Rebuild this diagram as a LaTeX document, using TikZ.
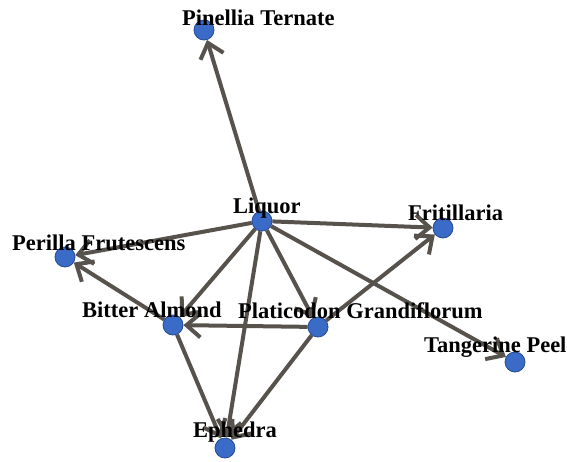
\documentclass[tikz,border=0pt]{standalone}
\usepackage{fontspec}
\setmainfont{Liberation Serif}
\usetikzlibrary{arrows.meta}
\pgfdeclarelayer{bg}
\pgfsetlayers{bg,main}
\definecolor{herbblue}{RGB}{58,107,198}
\definecolor{herbrim}{RGB}{36,74,150}
\definecolor{linkgray}{RGB}{88,82,76}
\begin{document}
\begin{tikzpicture}[x=1pt,y=-1pt,
  herb/.style={circle,fill=herbblue,draw=herbrim,line width=0.8pt,minimum size=20pt,inner sep=0pt},
  herbname/.style={anchor=base west,inner sep=0pt,font=\fontsize{22.5}{26}\selectfont\bfseries},
  link/.style={linkgray,line width=4pt,-{Straight Barb[length=14pt,width=24pt]}}]
\useasboundingbox (0,0) rectangle (567,461);
% herbs
\node[herb] (pin) at (204,30) {};
\node[herb] (liq) at (262,221) {};
\node[herb] (per) at (65,257) {};
\node[herb] (fri) at (443,228) {};
\node[herb] (bit) at (173,325) {};
\node[herb] (pla) at (318,327) {};
\node[herb] (tan) at (515,362) {};
\node[herb] (eph) at (225,448) {};
% names
\node[herbname] (pinL) at (182,25) {Pinellia Ternate};
\node[herbname] (liqL) at (233,213) {Liquor};
\node[herbname] (perL) at (12,250) {Perilla Frutescens};
\node[herbname] (friL) at (408,220) {Fritillaria};
\node[herbname] (bitL) at (82,317) {Bitter Almond};
\node[herbname] (plaL) at (238,318) {Platicodon Grandiflorum};
\node[herbname] (tanL) at (424,352) {Tangerine Peel};
\node[herbname] (ephL) at (193,437) {Ephedra};
% links
\begin{pgfonlayer}{bg}
\draw[link] (liq) -- (pin);
\draw[link] (liq) -- (fri);
\draw[link] (liq) -- (per);
\draw[link] (liq) -- (bit);
\draw[link] (liq) -- (pla);
\draw[link] (liq) -- (eph);
\draw[link] (liq) -- (tan);
\draw[link] (bit) -- (per);
\draw[link] (pla) -- (bit);
\draw[link] (pla) -- (fri);
\draw[link] (bit) -- (eph);
\draw[link] (pla) -- (eph);
\end{pgfonlayer}
\end{tikzpicture}
\end{document}
